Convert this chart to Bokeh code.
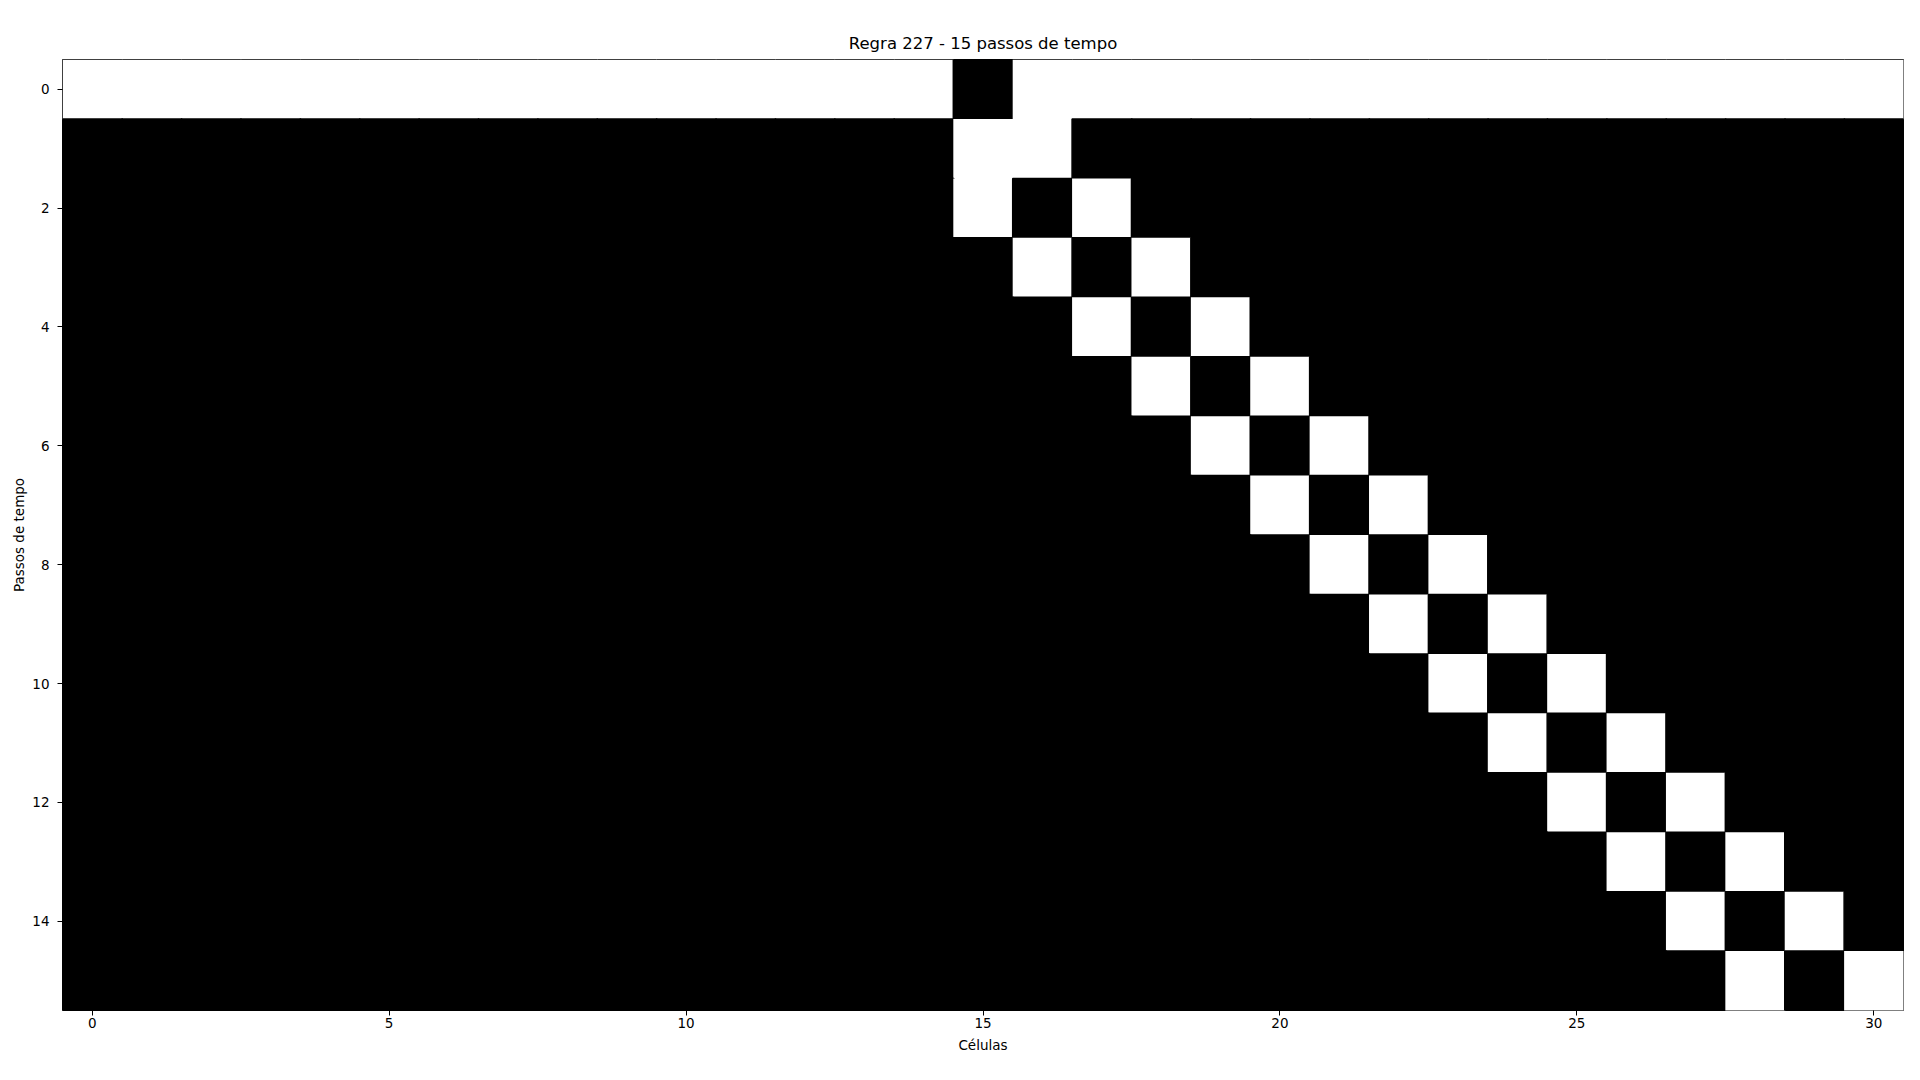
from bokeh.plotting import figure
from bokeh.models import Range1d, FixedTicker, ColumnDataSource
from bokeh.embed import file_html
from bokeh.resources import INLINE

# estado de cada célula por passo de tempo (1 = preto, 0 = branco)
rows = [
    "00000 00000 00000 10000 00000 00000 0",
    "11111 11111 11111 00111 11111 11111 1",
    "11111 11111 11111 01011 11111 11111 1",
    "11111 11111 11111 10101 11111 11111 1",
    "11111 11111 11111 11010 11111 11111 1",
    "11111 11111 11111 11101 01111 11111 1",
    "11111 11111 11111 11110 10111 11111 1",
    "11111 11111 11111 11111 01011 11111 1",
    "11111 11111 11111 11111 10101 11111 1",
    "11111 11111 11111 11111 11010 11111 1",
    "11111 11111 11111 11111 11101 01111 1",
    "11111 11111 11111 11111 11110 10111 1",
    "11111 11111 11111 11111 11111 01011 1",
    "11111 11111 11111 11111 11111 10101 1",
    "11111 11111 11111 11111 11111 11010 1",
    "11111 11111 11111 11111 11111 11101 0",
]
x_ticks = [0, 5, 10, 15, 20, 25, 30]
y_ticks = [0, 2, 4, 6, 8, 10, 12, 14]

xs, ys, colors, edge = [], [], [], []
for step, r in enumerate(rows):
    for cell, v in enumerate(r.replace(" ", "")):
        xs.append(cell)
        ys.append(step)
        colors.append("black" if v == "1" else "white")
        edge.append(1.0 if v == "1" else 0.0)
src = ColumnDataSource(dict(x=xs, y=ys, c=colors, a=edge))

n_cells = len(rows[0].replace(" ", ""))
p = figure(width=1904, height=1064, output_backend="svg", toolbar_location=None,
           x_range=Range1d(-0.5, n_cells - 0.5), y_range=Range1d(len(rows) - 0.5, -0.5),
           title="Regra 227 - 15 passos de tempo",
           min_border_left=62, min_border_right=1, min_border_top=59, min_border_bottom=54)
p.background_fill_color = "white"
p.rect(x="x", y="y", width=1, height=1, source=src, fill_color="c",
       line_color="black", line_alpha="a", line_width=1.5, dilate=True)

p.title.align = "center"
p.title.text_font = "DejaVu Sans"
p.title.text_font_style = "normal"
p.title.text_font_size = "16.5px"
p.title.text_color = "black"
p.title.standoff = 13

p.xgrid.visible = False
p.ygrid.visible = False
p.outline_line_color = "black"
p.outline_line_width = 1
p.outline_line_alpha = 1

p.xaxis.ticker = FixedTicker(ticks=x_ticks)
p.yaxis.ticker = FixedTicker(ticks=y_ticks)
p.xaxis.axis_label = "Células"
p.yaxis.axis_label = "Passos de tempo"
for ax in (p.xaxis, p.yaxis):
    ax.axis_line_color = None
    ax.minor_tick_line_color = None
    ax.major_tick_in = 0
    ax.major_tick_out = 5
    ax.major_tick_line_color = "black"
    ax.major_label_text_font = "DejaVu Sans"
    ax.major_label_text_font_size = "13.5px"
    ax.major_label_text_color = "black"
    ax.axis_label_text_font = "DejaVu Sans"
    ax.axis_label_text_font_style = "normal"
    ax.axis_label_text_font_size = "13.5px"
    ax.axis_label_text_color = "black"
p.xaxis.major_label_standoff = 2
p.xaxis.axis_label_standoff = 6
p.yaxis.major_label_standoff = 8
p.yaxis.axis_label_standoff = 2

open("out.html", "w").write(file_html(p, INLINE))
